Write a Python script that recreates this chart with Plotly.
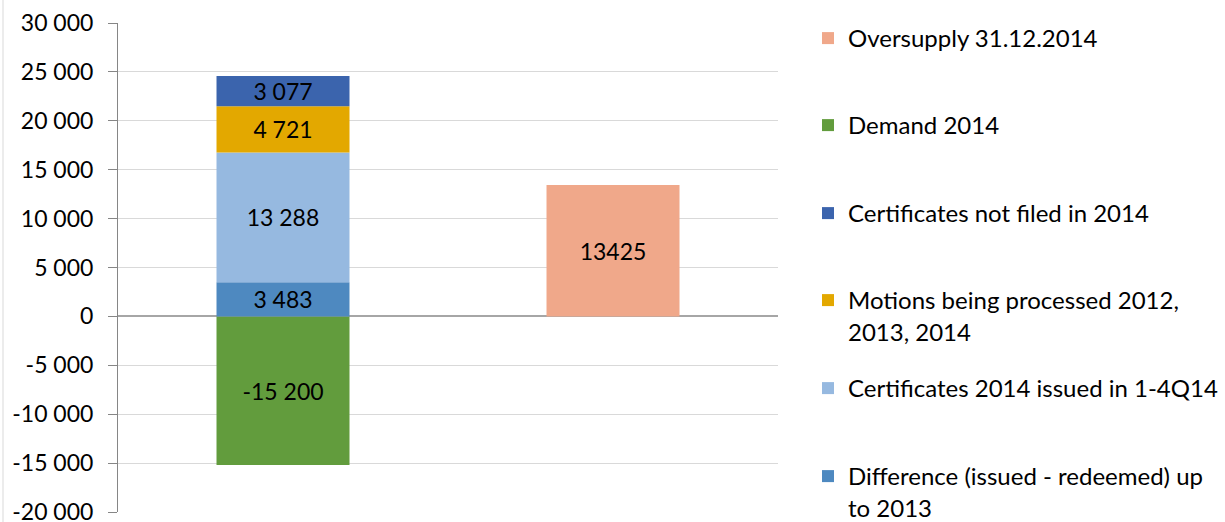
import plotly.graph_objects as go

categories = ["Supply", "Oversupply"]
series_names = [
    "Oversupply 31.12.2014",
    "Demand 2014",
    "Difference (issued - redeemed) up<br>to 2013",
    "Certificates 2014 issued in 1-4Q14",
    "Motions being processed 2012,<br>2013, 2014",
    "Certificates not filed in 2014",
]
oversupply = [None, 13425]
demand = [-15200, None]
difference = [3483, None]
certs_issued = [13288, None]
motions = [4721, None]
not_filed = [3077, None]

tick_values = [30000, 25000, 20000, 15000, 10000, 5000, 0, -5000, -10000, -15000, -20000]
tick_labels = ["30 000", "25 000", "20 000", "15 000", "10 000", "5 000", "0",
               "-5 000", "-10 000", "-15 000", "-20 000"]

colors = ["#F0A88A", "#629C3D", "#4E89C0", "#96B9E0", "#E3A800", "#3B64AD"]
values = [oversupply, demand, difference, certs_issued, motions, not_filed]
legend_rank = [1, 2, 6, 5, 4, 3]
legend_centers_px = [37, 124, 212, 299, 387, 475]

W, H = 1225, 522
L, R, T, B = 118, 447, 23, 10
pw, ph = W - L - R, H - T - B

def fmt(v, sep=True):
    if v is None:
        return None
    if not sep:
        return str(v)
    return f"{v:,}".replace(",", " ")

FONT = "Lato, 'Open Sans', sans-serif"
FS = 23
LFS = 24

fig = go.Figure()
for i, (name, vals, col) in enumerate(zip(series_names, values, colors)):
    texts = [fmt(v, sep=(i != 0)) for v in vals]
    fig.add_trace(go.Bar(
        x=categories, y=vals, name=name, marker=dict(color=col, line=dict(width=0)),
        text=texts, textposition="inside", insidetextanchor="middle",
        constraintext="none", cliponaxis=False,
        textangle=0, textfont=dict(family=FONT, size=FS, color="black"),
        legend="legend" if i == 0 else f"legend{i+1}",
        hoverinfo="name+y",
    ))

layout_legends = {}
for i, rank in enumerate(legend_rank):
    key = "legend" if i == 0 else f"legend{i+1}"
    cy = legend_centers_px[rank - 1]
    top_px = cy - 21
    layout_legends[key] = dict(
        x=(808 - L) / pw, xanchor="left",
        y=(H - B - top_px) / ph, yanchor="top",
        bgcolor="rgba(0,0,0,0)", borderwidth=0,
        font=dict(family=FONT, size=LFS, color="black"),
        valign="top", itemclick=False, itemdoubleclick=False,
    )

fig.update_layout(
    width=W, height=H,
    margin=dict(l=L, r=R, t=T, b=B, pad=0, autoexpand=False),
    barmode="relative", bargap=0.597,
    plot_bgcolor="white", paper_bgcolor="white",
    font=dict(family=FONT, size=FS, color="black"),
    showlegend=True,
    uniformtext=dict(mode=False),
    **layout_legends,
)
fig.update_xaxes(range=[-0.5, 1.5], showticklabels=False, showgrid=False,
                 zeroline=False, showline=False, ticks="")
fig.update_yaxes(range=[-20000, 30000], tickvals=tick_values, ticktext=tick_labels,
                 showgrid=True, gridcolor="#D9D9D9", gridwidth=1,
                 zeroline=True, zerolinecolor="#A6A6A6", zerolinewidth=2,
                 showline=True, linecolor="#868686", linewidth=1,
                 ticks="outside", ticklen=9, tickcolor="#868686",
                 ticklabelstandoff=10, automargin=False,
                 ticklabeloverflow="allow",
                 tickfont=dict(family=FONT, size=FS, color="black"))

fig.add_shape(type="line", xref="paper", yref="paper",
              x0=(3 - L) / pw, x1=(3 - L) / pw, y0=-B / ph, y1=(H - B) / ph,
              line=dict(color="#D9D9D9", width=1))

fig.write_html("out.html",
               config={"displayModeBar": False},
               post_script="document.body.style.margin='0';document.body.style.padding='0';")
